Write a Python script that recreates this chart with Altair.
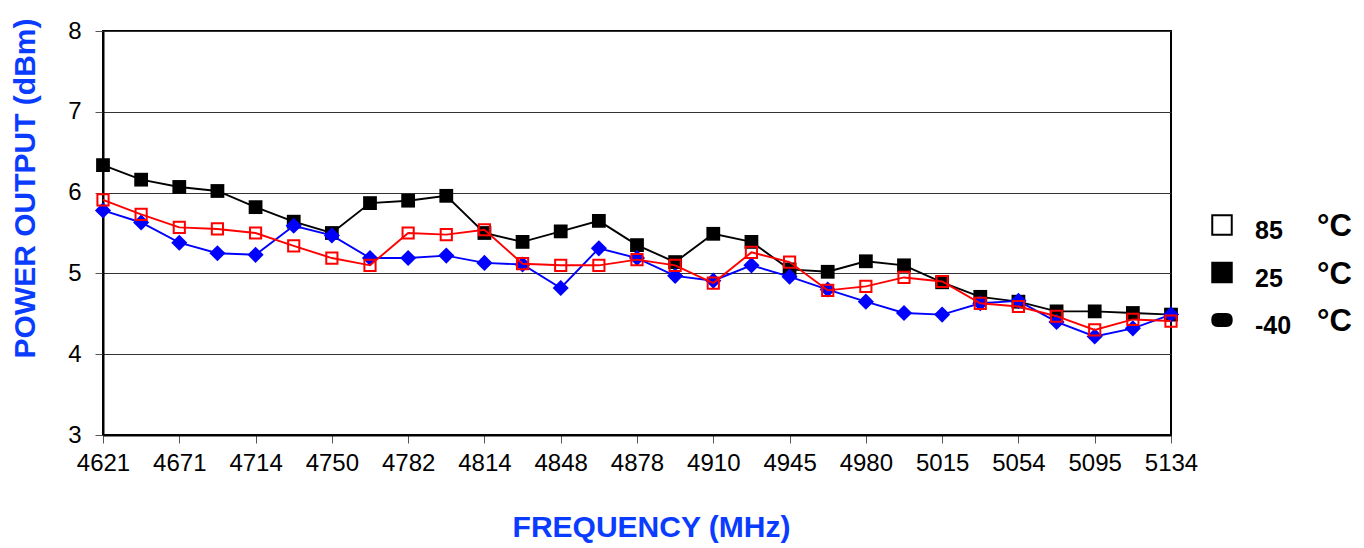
import altair as alt
import pandas as pd

freqs = ["4621", "4646", "4671", "4693", "4714", "4732", "4750", "4766", "4782", "4798",
         "4814", "4831", "4848", "4863", "4878", "4894", "4910", "4927", "4945", "4962",
         "4980", "4997", "5015", "5034", "5054", "5074", "5095", "5114", "5134"]
tick_labels = freqs[::2]

p25 = [6.34, 6.16, 6.07, 6.02, 5.82, 5.64, 5.50, 5.87, 5.90, 5.96, 5.50, 5.39, 5.52, 5.65, 5.35,
       5.14, 5.49, 5.39, 5.05, 5.02, 5.15, 5.10, 4.89, 4.71, 4.65, 4.53, 4.53, 4.51, 4.49]
p85 = [5.91, 5.73, 5.57, 5.55, 5.50, 5.34, 5.19, 5.10, 5.50, 5.48, 5.54, 5.12, 5.10, 5.10, 5.17,
       5.10, 4.88, 5.26, 5.14, 4.79, 4.84, 4.95, 4.90, 4.63, 4.59, 4.47, 4.30, 4.43, 4.41]
m40 = [5.78, 5.63, 5.38, 5.25, 5.23, 5.59, 5.47, 5.19, 5.19, 5.22, 5.13, 5.11, 4.82, 5.31, 5.19,
       4.97, 4.91, 5.10, 4.96, 4.80, 4.65, 4.51, 4.49, 4.63, 4.66, 4.40, 4.22, 4.32, 4.49]

legend_keys = ["85", "25", "-40"]
legend_units = ["°C", "°C", "°C"]

rows = []
for name, vals in [("25", p25), ("-40", m40), ("85", p85)]:
    for f, v in zip(freqs, vals):
        rows.append({"freq": f, "value": v, "series": name})
df = pd.DataFrame(rows)

FONT = "Liberation Sans"
TITLE_BLUE = "#0a3cff"

x_enc = alt.X("freq:O", sort=freqs,
              scale=alt.Scale(type="point", padding=0),
              axis=alt.Axis(values=tick_labels, title="FREQUENCY (MHz)", labelAngle=0,
                            titleX=548, titleY=92, titleBaseline="middle",
                            labelPadding=8))
y_enc = alt.Y("value:Q", scale=alt.Scale(domain=[3, 8], nice=False, zero=False),
              axis=alt.Axis(values=[3, 4, 5, 6, 7, 8], title="POWER OUTPUT (dBm)",
                            titleX=-78, titleY=157, titleAngle=270,
                            titleAlign="center", titleBaseline="middle",
                            labelPadding=14))

base = alt.Chart(df).encode(x=x_enc, y=y_enc)

def series_layers(name, color, shape, size, filled):
    sub = base.transform_filter(alt.datum.series == name)
    line = sub.mark_line(color=color, strokeWidth=1.9)
    if filled:
        pts = sub.mark_point(shape=shape, size=size, filled=True, color=color, opacity=1)
    else:
        pts = sub.mark_point(shape=shape, size=size, filled=False, color=color,
                             strokeWidth=2, opacity=1)
    return [line, pts]

layers = (series_layers("25", "#000000", "square", 190, True)
          + series_layers("-40", "#0000ff", "diamond", 260, True)
          + series_layers("85", "#ff0000", "square", 125, False))

main = alt.layer(*layers).properties(
    width=1068, height=404,
    view=alt.ViewBackground(stroke="black", strokeWidth=2),
)

leg_df = pd.DataFrame({"key": legend_keys, "unit": legend_units})
oval = ("M-0.45,-0.62 L0.45,-0.62 Q1,-0.62 1,0 Q1,0.62 0.45,0.62 "
        "L-0.45,0.62 Q-1,0.62 -1,0 Q-1,-0.62 -0.45,-0.62 Z")
ly = alt.Y("key:N", sort=legend_keys, axis=None,
           scale=alt.Scale(type="point", range=[194, 289], padding=0))
leg_base = alt.Chart(leg_df).encode(y=ly)
leg_sym = leg_base.mark_point(size=380, stroke="black", strokeWidth=2, opacity=1).encode(
    x=alt.value(23),
    shape=alt.Shape("key:N", sort=legend_keys, legend=None,
                    scale=alt.Scale(domain=legend_keys, range=["square", "square", oval])),
    fill=alt.Fill("key:N", sort=legend_keys, legend=None,
                  scale=alt.Scale(domain=legend_keys, range=["white", "black", "black"])),
)
leg_txt = leg_base.mark_text(font=FONT, fontSize=25, fontWeight="bold", align="left",
                             baseline="middle", dy=6, color="black").encode(
    x=alt.value(56), text="key:N")
leg_unit = leg_base.mark_text(font=FONT, fontSize=31, fontWeight="bold", align="left",
                              baseline="middle", dy=2, color="black").encode(
    x=alt.value(118), text="unit:N")
legend = alt.layer(leg_sym, leg_txt, leg_unit).properties(
    width=140, height=404,
    view=alt.ViewBackground(stroke="transparent", strokeWidth=0),
)

chart = alt.hconcat(main, legend, spacing=0).properties(
    background="white",
    padding={"left": 0, "top": 9, "right": 0, "bottom": 0},
).configure_axis(
    labelFont=FONT, labelFontSize=24, labelColor="black",
    tickColor="#555555", tickSize=8, tickWidth=1,
    domainColor="black", domainWidth=2,
    gridColor="#333333", gridWidth=1,
    titleFont=FONT, titleFontSize=30, titleFontWeight="bold", titleColor=TITLE_BLUE,
)

chart.save("out.html", embed_options={"renderer": "svg", "actions": False})
